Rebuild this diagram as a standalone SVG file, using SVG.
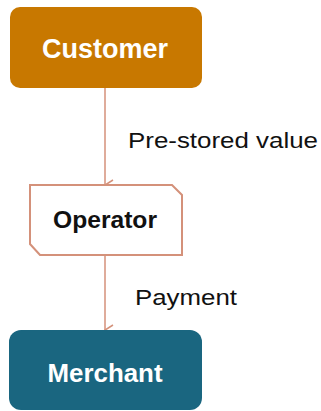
<svg xmlns="http://www.w3.org/2000/svg" width="321" height="411" viewBox="0 0 321 411">
<style>
.lbl{font-family:"Liberation Sans",Arial,sans-serif;font-weight:bold;text-anchor:middle}
.edge{font-family:"Liberation Sans",Arial,sans-serif;font-size:22px;fill:#111}
.conn{stroke:#D4917A;stroke-width:1.5;fill:none}
</style>
<defs>
<marker id="arr" markerWidth="12" markerHeight="10" refX="6" refY="9" orient="auto" markerUnits="userSpaceOnUse" viewBox="0 0 12 10">
<path d="M1,1 L6,9 L11,1" fill="none" stroke="#D4917A" stroke-width="1.5"/>
</marker>
</defs>
<rect width="321" height="411" fill="#fff"/>
<g id="connectors">
<line class="conn" x1="105" y1="88" x2="105" y2="185" marker-end="url(#arr)"/>
<line class="conn" x1="105" y1="255" x2="105" y2="330" marker-end="url(#arr)"/>
<text class="edge" x="128" y="148" textLength="190" lengthAdjust="spacingAndGlyphs">Pre-stored value</text>
<text class="edge" x="135" y="305" textLength="102" lengthAdjust="spacingAndGlyphs">Payment</text>
</g>
<g id="customer">
<rect x="10" y="7" width="192" height="81" rx="10" fill="#C87800"/>
<text class="lbl" x="105" y="58" font-size="28" fill="#fff" textLength="126" lengthAdjust="spacingAndGlyphs">Customer</text>
</g>
<g id="operator">
<path d="M30,185 L172,185 L182,195 L182,255 L40,255 L30,244 Z" fill="#fff" stroke="#D4917A" stroke-width="2"/>
<text class="lbl" x="105" y="228" font-size="23" fill="#111" textLength="104" lengthAdjust="spacingAndGlyphs">Operator</text>
</g>
<g id="merchant">
<rect x="9" y="330" width="193" height="80" rx="12" fill="#1A6680"/>
<text class="lbl" x="105" y="382" font-size="26" fill="#fff" textLength="115" lengthAdjust="spacingAndGlyphs">Merchant</text>
</g>
</svg>
